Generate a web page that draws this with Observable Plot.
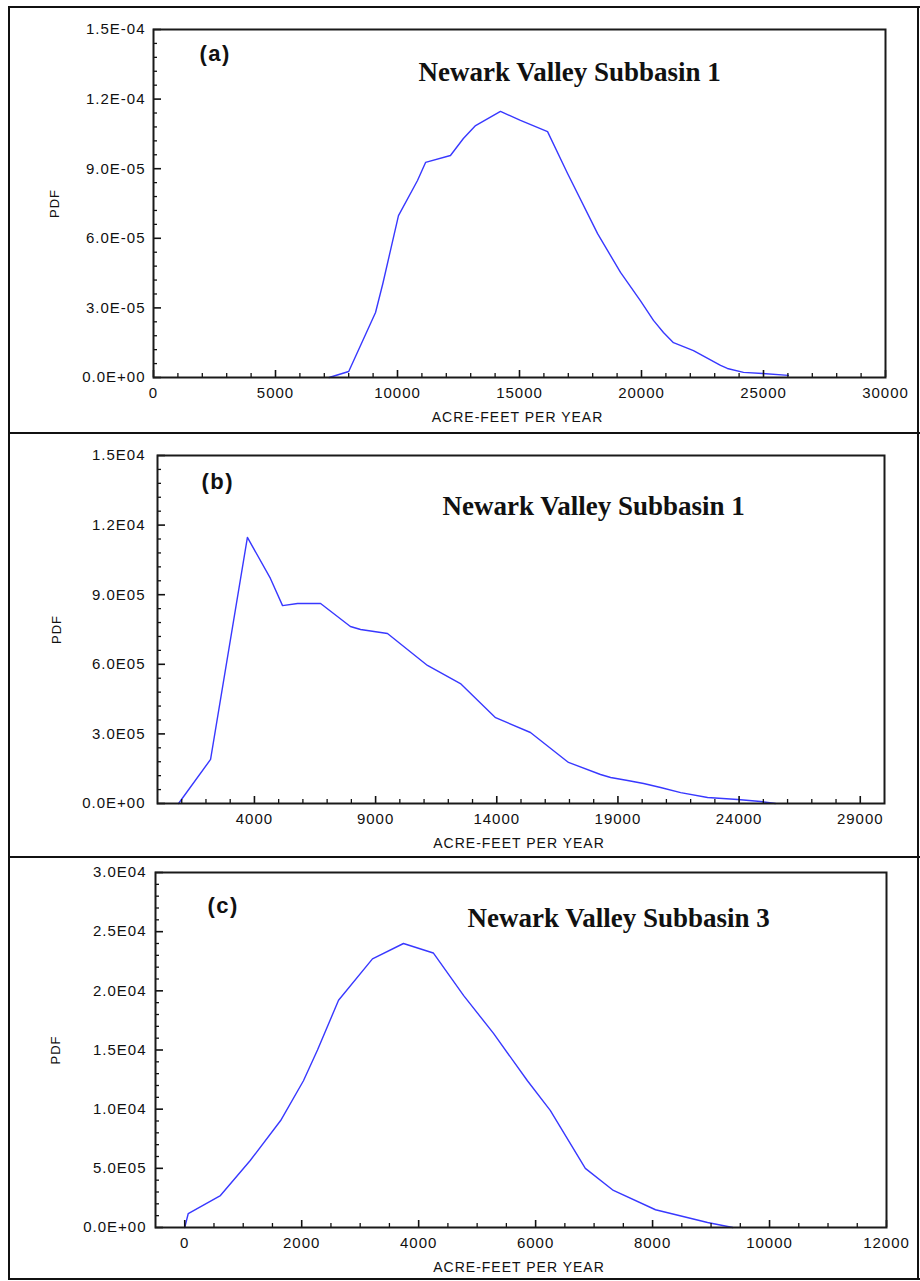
<!DOCTYPE html>
<html><head><meta charset="utf-8">
<script src="https://cdn.jsdelivr.net/npm/d3@7"></script>
<script src="https://cdn.jsdelivr.net/npm/@observablehq/plot@0.6"></script>
<style>
body{margin:0;background:#fff;}
#wrap{position:relative;width:920px;height:1281px;overflow:hidden;background:#fff;}
.panel{position:absolute;left:0;}
.bl{position:absolute;background:#111;}
</style></head><body><div id="wrap"></div>
<script>
// ---------- DATA ----------
// Panel (a)
const aAcreFeet = [7200, 8000, 9100, 9400, 10040, 10820, 11150, 12170, 12700, 13200, 14220, 15040, 16150, 16970, 18200, 19140, 19960, 20490, 20900, 21310, 22130, 23240, 23520, 24180, 24960, 26020];
const aPdf      = [0, 2.6e-6, 2.8e-5, 4.05e-5, 6.98e-5, 8.49e-5, 9.27e-5, 9.57e-5, 1.03e-4, 1.086e-4, 1.147e-4, 1.108e-4, 1.06e-4, 8.79e-5, 6.2e-5, 4.53e-5, 3.3e-5, 2.46e-5, 1.94e-5, 1.5e-5, 1.16e-5, 5.2e-6, 3.9e-6, 2.2e-6, 1.7e-6, 0.9e-6];
const aXTicks = [0, 5000, 10000, 15000, 20000, 25000, 30000];
const aXTickLabels = ["0", "5000", "10000", "15000", "20000", "25000", "30000"];
const aYTicks = [0, 3e-5, 6e-5, 9e-5, 1.2e-4, 1.5e-4];
const aYTickLabels = ["0.0E+00", "3.0E-05", "6.0E-05", "9.0E-05", "1.2E-04", "1.5E-04"];
const aTitle = "Newark Valley Subbasin 1";

// Panel (b)
const bAcreFeet = [870, 2190, 3710, 4660, 5160, 5780, 6730, 7960, 8380, 9490, 11140, 12500, 13950, 15390, 16960, 18280, 18700, 19400, 20060, 20760, 21590, 22700, 23940, 24890, 25500];
const bPdf      = [0, 1.9e-5, 1.147e-4, 9.7e-5, 8.53e-5, 8.62e-5, 8.62e-5, 7.63e-5, 7.5e-5, 7.33e-5, 5.95e-5, 5.17e-5, 3.7e-5, 3.06e-5, 1.77e-5, 1.25e-5, 1.12e-5, 9.9e-6, 8.6e-6, 6.9e-6, 4.7e-6, 2.6e-6, 1.7e-6, 8.6e-7, 0];
const bXTicks = [4000, 9000, 14000, 19000, 24000, 29000];
const bXTickLabels = ["4000", "9000", "14000", "19000", "24000", "29000"];
const bYTicks = [0, 3e-5, 6e-5, 9e-5, 1.2e-4, 1.5e-4];
const bYTickLabels = ["0.0E+00", "3.0E05", "6.0E05", "9.0E05", "1.2E04", "1.5E04"];
const bTitle = "Newark Valley Subbasin 1";

// Panel (c)
const cAcreFeet = [0, 60, 610, 1120, 1640, 2030, 2270, 2630, 3210, 3740, 4250, 4770, 5280, 5860, 6250, 6850, 7330, 8050, 8940, 9370];
const cPdf      = [0, 1.18e-5, 2.7e-5, 5.66e-5, 9.04e-5, 1.24e-4, 1.5e-4, 1.92e-4, 2.27e-4, 2.4e-4, 2.32e-4, 1.96e-4, 1.64e-4, 1.24e-4, 9.9e-5, 5.0e-5, 3.13e-5, 1.5e-5, 4.2e-6, 0];
const cXTicks = [0, 2000, 4000, 6000, 8000, 10000, 12000];
const cXTickLabels = ["0", "2000", "4000", "6000", "8000", "10000", "12000"];
const cYTicks = [0, 5e-5, 1e-4, 1.5e-4, 2e-4, 2.5e-4, 3e-4];
const cYTickLabels = ["0.0E+00", "5.0E05", "1.0E04", "1.5E04", "2.0E04", "2.5E04", "3.0E04"];
const cTitle = "Newark Valley Subbasin 3";

const xLabel = "ACRE-FEET PER YEAR";
const yLabel = "PDF";

// ---------- RENDER ----------
const wrap = document.getElementById("wrap");
const FONT = "'Liberation Sans', Arial, sans-serif";
const LINE = "#3838ff";

function minor(start, stop, step, majors) {
  const out = [];
  const n = Math.round((stop - start) / step);
  for (let i = 0; i <= n; i++) {
    const v = start + i * step;
    if (!majors.some(m => Math.abs(m - v) < step * 1e-3)) out.push(v);
  }
  return out;
}

function panel(cfg) {
  const data = cfg.xs.map((x, i) => ({x, y: cfg.ys[i]}));
  const fmtX = d => cfg.xLabels[cfg.xTicks.indexOf(d)];
  const fmtY = d => cfg.yLabels[cfg.yTicks.indexOf(d)];
  const svg = Plot.plot({
    width: 920,
    height: cfg.height,
    marginTop: cfg.mT, marginBottom: cfg.mB, marginLeft: cfg.mL, marginRight: cfg.mR,
    style: {fontFamily: FONT, background: "transparent", color: "#111", overflow: "visible"},
    x: {type: "linear", domain: cfg.xDomain, axis: null},
    y: {type: "linear", domain: cfg.yDomain, axis: null},
    marks: [
      Plot.line(data, {x: "x", y: "y", stroke: LINE, strokeWidth: 1.4}),
      // inward ticks: drawn outward then shifted inside by their own length
      Plot.axisX(cfg.xMinor, {anchor: "bottom", tickSize: 4, dy: -4, tickFormat: () => "", label: null, strokeWidth: 1.3}),
      Plot.axisX(cfg.xTicks, {anchor: "bottom", tickSize: 7, dy: -7, tickFormat: () => "", label: null, strokeWidth: 1.6}),
      Plot.axisX(cfg.xTicks, {anchor: "bottom", tickSize: 0, tickPadding: 10, tickFormat: fmtX, label: null, fontSize: 15}),
      Plot.axisY(cfg.yMinor, {anchor: "left", tickSize: 4, dx: 4, tickFormat: () => "", label: null, strokeWidth: 1.3}),
      Plot.axisY(cfg.yTicks, {anchor: "left", tickSize: 8, dx: 8, tickFormat: () => "", label: null, strokeWidth: 1.6}),
      Plot.axisY(cfg.yTicks, {anchor: "left", tickSize: 0, tickPadding: cfg.yPad, tickFormat: fmtY, label: null, fontSize: 15}),
      Plot.frame({stroke: "#1a1a1a", strokeWidth: 2}),
      Plot.text([xLabel], {text: d => d, frameAnchor: "bottom", textAnchor: "middle", lineAnchor: "top", dy: 35, dx: -2, fontSize: 14}),
      Plot.text([yLabel], {text: d => d, frameAnchor: "left", textAnchor: "middle", lineAnchor: "middle", rotate: -90, dx: cfg.pdfDx, fontSize: 13}),
      Plot.text([cfg.tag], {text: d => d, frameAnchor: "top-left", textAnchor: "start", lineAnchor: "top", dx: cfg.tagDx, dy: cfg.tagDy, fontSize: 22, fontWeight: "bold"}),
      Plot.text([cfg.title], {text: d => d, frameAnchor: "top-left", textAnchor: "start", lineAnchor: "top", dx: cfg.titleDx, dy: cfg.titleDy, fontSize: 27, fontWeight: "bold", fontFamily: "'Liberation Serif', 'Times New Roman', serif"})
    ]
  });
  svg.style.letterSpacing = "1px";
  svg.querySelectorAll("text").forEach(t => {
    if (t.textContent === cfg.title) t.style.letterSpacing = "0px";
    if (t.textContent === cfg.tag) t.style.letterSpacing = "1.5px";
  });
  const div = document.createElement("div");
  div.className = "panel";
  div.style.top = cfg.top + "px";
  div.appendChild(svg);
  wrap.appendChild(div);
}

panel({
  top: 6, height: 427, mT: 23, mB: 56, mL: 153, mR: 35,
  xs: aAcreFeet, ys: aPdf, xDomain: [0, 30000], yDomain: [0, 1.5e-4],
  xTicks: aXTicks, xLabels: aXTickLabels, xMinor: minor(0, 30000, 1000, aXTicks),
  yTicks: aYTicks, yLabels: aYTickLabels, yMinor: minor(0, 1.5e-4, 6e-6, aYTicks),
  yPad: 8, pdfDx: -99, tag: "(a)", tagDx: 46, tagDy: 16, title: aTitle, titleDx: 265, titleDy: 32
});
panel({
  top: 433, height: 424, mT: 22, mB: 54, mL: 157, mR: 36,
  xs: bAcreFeet, ys: bPdf, xDomain: [0, 30000], yDomain: [0, 1.5e-4],
  xTicks: bXTicks, xLabels: bXTickLabels, xMinor: minor(1000, 29000, 1000, bXTicks),
  yTicks: bYTicks, yLabels: bYTickLabels, yMinor: minor(0, 1.5e-4, 6e-6, bYTicks),
  yPad: 12, pdfDx: -101, tag: "(b)", tagDx: 44, tagDy: 18, title: bTitle, titleDx: 285, titleDy: 40
});
panel({
  top: 857, height: 424, mT: 15, mB: 54, mL: 155, mR: 34,
  xs: cAcreFeet, ys: cPdf, xDomain: [-500, 12000], yDomain: [0, 3e-4],
  xTicks: cXTicks, xLabels: cXTickLabels, xMinor: minor(500, 11500, 500, cXTicks),
  yTicks: cYTicks, yLabels: cYTickLabels, yMinor: minor(0, 3e-4, 1e-5, cYTicks),
  yPad: 9, pdfDx: -100, tag: "(c)", tagDx: 52, tagDy: 25, title: cTitle, titleDx: 312, titleDy: 35
});

// outer border and separators
[[8, 6, 2, 1274], [8, 6, 912, 2], [8, 432, 912, 2], [8, 856, 912, 2], [8, 1278, 912, 2], [917, 6, 2, 1274]].forEach(([l, t, w, h]) => {
  const d = document.createElement("div");
  d.className = "bl";
  Object.assign(d.style, {left: l + "px", top: t + "px", width: w + "px", height: h + "px"});
  wrap.appendChild(d);
});
</script></body></html>
